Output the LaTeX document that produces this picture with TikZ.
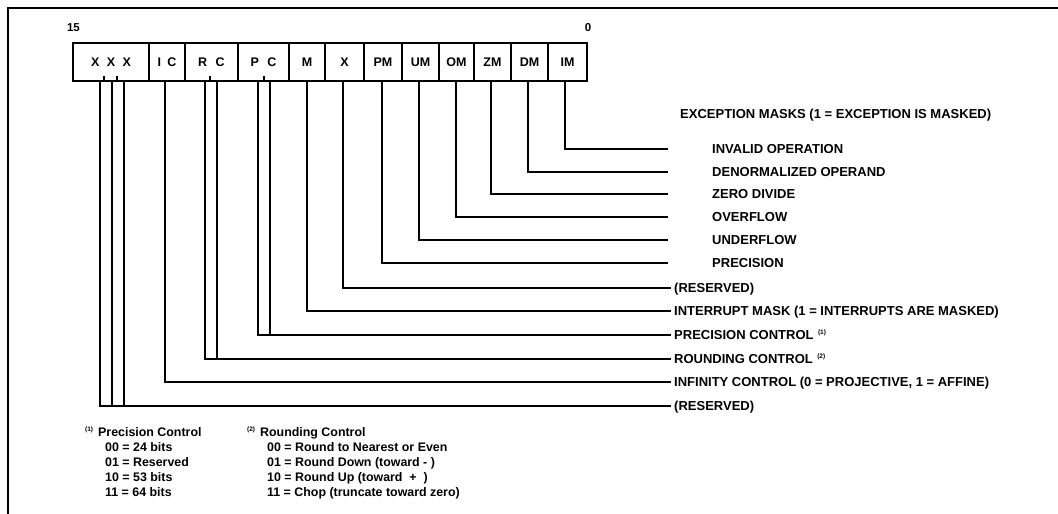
\documentclass[tikz,border=0pt]{standalone}
\usepackage{fontspec}
\setmainfont{Liberation Sans}
\begin{document}
\begin{tikzpicture}[x=1pt,y=-1pt,
  cell/.style={draw,line width=2pt,inner sep=0pt,minimum height=38pt,font=\bfseries\fontsize{12.5}{13}\selectfont},
  wire/.style={line width=1.8pt},
  tick/.style={line width=1.4pt},
  lab/.style={anchor=base west,inner sep=0pt,font=\bfseries\fontsize{13}{14}\selectfont},
  foot/.style={anchor=base west,inner sep=0pt,font=\bfseries\fontsize{12.4}{14}\selectfont},
  sup/.style={anchor=base west,inner sep=0pt,font=\bfseries\fontsize{6.5}{7}\selectfont},
  bitno/.style={inner sep=0pt,font=\bfseries\fontsize{11.5}{12}\selectfont}]
\useasboundingbox (0,0) rectangle (1058,514);
% frame
\draw[line width=2pt] (8,520) -- (8,8) -- (1062,8);
% bit numbers
\node[bitno] (b15) at (73.5,27.5) {15};
\node[bitno] (b0) at (588,27.5) {0};
% register cells
\node[cell,minimum width=76pt] (cX3) at (111,62) {X\hspace{4pt} X\hspace{4pt} X};
\node[cell,minimum width=36pt] (cIC) at (167,62) {I\hspace{3pt} C};
\node[cell,minimum width=53pt] (cRC) at (211.5,62) {R\hspace{5pt} C};
\node[cell,minimum width=51pt] (cPC) at (263.5,62) {P\hspace{5pt} C};
\node[cell,minimum width=36pt] (cM) at (307,62) {M};
\node[cell,minimum width=39pt] (cX) at (344.5,62) {X};
\node[cell,minimum width=38pt] (cPM) at (383,62) {PM};
\node[cell,minimum width=37pt] (cUM) at (420.5,62) {UM};
\node[cell,minimum width=35pt] (cOM) at (456.5,62) {OM};
\node[cell,minimum width=37pt] (cZM) at (492.5,62) {ZM};
\node[cell,minimum width=37pt] (cDM) at (529.5,62) {DM};
\node[cell,minimum width=39pt] (cIM) at (567.5,62) {IM};
% small ticks inside cells
\draw[tick] (104,81) -- (104,76);
\draw[tick] (117,81) -- (117,76);
\draw[tick] (210,81) -- (210,76);
\draw[tick] (264,81) -- (264,76);
% start points at box bottom
\foreach \n/\x in {sA/100,sB/112,sC/124,sIC/165,sR1/205,sR2/217,sP1/258,sP2/270,sM/307,sX/343,sPM/382,sUM/419,sOM/456,sZM/491,sDM/528,sIM/565}
  \coordinate (\n) at (\x,81);
% end points
\foreach \n/\x/\y in {eIM/668/149,eDM/668/172,eZM/668/194,eOM/668/217,eUM/668/240,ePM/668/263,eX/671/288,eM/671/311,ePC/671/335,eRC/671/359,eIC/671/382,eRS/671/406}
  \coordinate (\n) at (\x,\y);
% connectors
\draw[wire] (sIM) |- (eIM);
\draw[wire] (sDM) |- (eDM);
\draw[wire] (sZM) |- (eZM);
\draw[wire] (sOM) |- (eOM);
\draw[wire] (sUM) |- (eUM);
\draw[wire] (sPM) |- (ePM);
\draw[wire] (sX) |- (eX);
\draw[wire] (sM) |- (eM);
\draw[wire] (sP1) |- (ePC);
\draw[wire] (sP2) -- (sP2 |- ePC);
\draw[wire] (sR1) |- (eRC);
\draw[wire] (sR2) -- (sR2 |- eRC);
\draw[wire] (sIC) |- (eIC);
\draw[wire] (sA) |- (eRS);
\draw[wire] (sB) -- (sB |- eRS);
\draw[wire] (sC) -- (sC |- eRS);
% labels
\node[lab] (tEX) at (680,118.5) {EXCEPTION MASKS (1 = EXCEPTION IS MASKED)};
\node[lab] (tIM) at (712,153.5) {INVALID OPERATION};
\node[lab] (tDM) at (712,176.5) {DENORMALIZED OPERAND};
\node[lab] (tZM) at (712,198.5) {ZERO DIVIDE};
\node[lab] (tOM) at (712,221.5) {OVERFLOW};
\node[lab] (tUM) at (712,244.5) {UNDERFLOW};
\node[lab] (tPM) at (712,267.5) {PRECISION};
\node[lab] (tX) at (674,292.5) {(RESERVED)};
\node[lab] (tM) at (674,315.5) {INTERRUPT MASK (1 = INTERRUPTS ARE MASKED)};
\node[lab] (tPC) at (674,339.5) {PRECISION CONTROL};
\node[sup] (tPCs) at ([xshift=4pt,yshift=5pt]tPC.base east) {(1)};
\node[lab] (tRC) at (674,363.5) {ROUNDING CONTROL};
\node[sup] (tRCs) at ([xshift=4pt,yshift=5pt]tRC.base east) {(2)};
\node[lab] (tIC) at (674,386.5) {INFINITY CONTROL (0 = PROJECTIVE, 1 = AFFINE)};
\node[lab] (tRS) at (674,410.5) {(RESERVED)};
% footnotes
\node[sup] (f1s) at (85,431) {(1)};
\node[foot] (f1) at (98,436.5) {Precision Control};
\node[foot] (f1a) at (105,451.5) {00 = 24 bits};
\node[foot] (f1b) at (105,466.5) {01 = Reserved};
\node[foot] (f1c) at (105,481.5) {10 = 53 bits};
\node[foot] (f1d) at (105,496.5) {11 = 64 bits};
\node[sup] (f2s) at (247,431) {(2)};
\node[foot] (f2) at (260,436.5) {Rounding Control};
\node[foot] (f2a) at (267,451.5) {00 = Round to Nearest or Even};
\node[foot] (f2b) at (267,466.5) {01 = Round Down (toward - )};
\node[foot] (f2c) at (267,481.5) {10 = Round Up (toward \ + \ )};
\node[foot] (f2d) at (267,496.5) {11 = Chop (truncate toward zero)};
\end{tikzpicture}
\end{document}
